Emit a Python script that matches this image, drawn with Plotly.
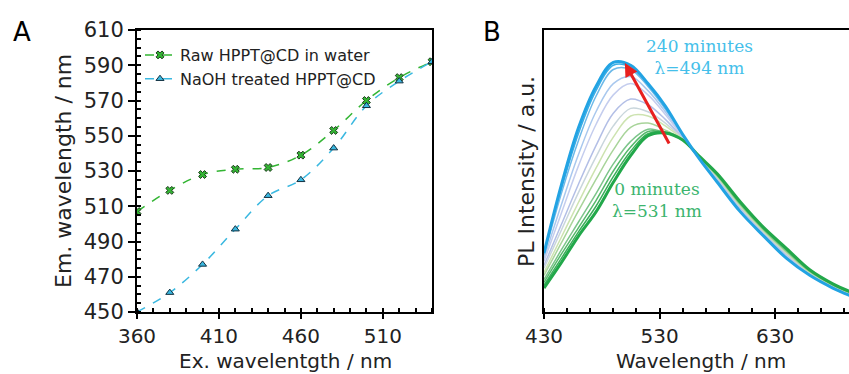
import plotly.graph_objects as go

# ---------------- Panel A data ----------------
ex_wavelength = [360, 380, 400, 420, 440, 460, 480, 500, 520, 540]
raw_em = [507, 519, 528, 531, 532, 539, 553, 570, 583, 592]
naoh_em = [450, 461, 477, 497, 516, 525, 543, 567, 581, 592]
a_xticks = [360, 410, 460, 510]
a_yticks = [450, 470, 490, 510, 530, 550, 570, 590, 610]

# ---------------- Panel B data ----------------
pl_wavelength = [430, 445, 460, 475, 490, 505, 520, 535, 550, 565, 580, 600, 620, 640, 660, 680, 695]
spec_00 = [0.085, 0.175, 0.27, 0.355, 0.46, 0.555, 0.625, 0.635, 0.61, 0.55, 0.49, 0.39, 0.30, 0.225, 0.15, 0.10, 0.072]
spec_01 = [0.095, 0.19, 0.285, 0.375, 0.48, 0.57, 0.632, 0.638, 0.61, 0.549, 0.488, 0.388, 0.298, 0.222, 0.149, 0.099, 0.071]
spec_02 = [0.105, 0.205, 0.30, 0.395, 0.50, 0.585, 0.64, 0.637, 0.61, 0.548, 0.486, 0.385, 0.296, 0.219, 0.147, 0.098, 0.070]
spec_03 = [0.115, 0.22, 0.32, 0.42, 0.525, 0.605, 0.648, 0.635, 0.61, 0.547, 0.484, 0.382, 0.293, 0.216, 0.145, 0.097, 0.069]
spec_04 = [0.13, 0.245, 0.36, 0.47, 0.575, 0.655, 0.67, 0.645, 0.61, 0.546, 0.482, 0.379, 0.29, 0.213, 0.143, 0.095, 0.068]
spec_05 = [0.14, 0.265, 0.39, 0.51, 0.62, 0.695, 0.695, 0.66, 0.612, 0.545, 0.48, 0.376, 0.287, 0.21, 0.141, 0.094, 0.067]
spec_06 = [0.155, 0.29, 0.425, 0.55, 0.66, 0.722, 0.71, 0.67, 0.615, 0.545, 0.478, 0.373, 0.285, 0.207, 0.139, 0.093, 0.066]
spec_07 = [0.165, 0.31, 0.455, 0.59, 0.705, 0.755, 0.735, 0.683, 0.617, 0.544, 0.476, 0.37, 0.283, 0.204, 0.138, 0.092, 0.065]
spec_08 = [0.18, 0.35, 0.52, 0.665, 0.77, 0.81, 0.77, 0.70, 0.62, 0.543, 0.472, 0.366, 0.279, 0.20, 0.136, 0.090, 0.063]
spec_09 = [0.19, 0.38, 0.56, 0.71, 0.81, 0.835, 0.785, 0.71, 0.622, 0.542, 0.468, 0.363, 0.276, 0.197, 0.134, 0.088, 0.061]
spec_10 = [0.20, 0.42, 0.61, 0.765, 0.86, 0.86, 0.80, 0.72, 0.625, 0.541, 0.465, 0.36, 0.274, 0.194, 0.133, 0.087, 0.060]
spec_11 = [0.205, 0.435, 0.635, 0.785, 0.875, 0.868, 0.805, 0.725, 0.628, 0.54, 0.462, 0.357, 0.272, 0.192, 0.131, 0.086, 0.059]
spec_12 = [0.209, 0.45, 0.655, 0.80, 0.885, 0.875, 0.81, 0.73, 0.63, 0.54, 0.46, 0.355, 0.27, 0.19, 0.13, 0.085, 0.058]
b_xticks = [430, 530, 630]

# styles (not data)
W, H = 849, 374
spec_list = [spec_11, spec_10, spec_09, spec_08, spec_07, spec_06, spec_05, spec_04, spec_03, spec_02, spec_01]
spec_colors = ["#3aaee6", "#6db9e8", "#a9c8ee", "#c4cdee", "#b3bfe6", "#c9d6dc", "#cde3b0",
               "#a8d49a", "#7cc58a", "#55b96b", "#3aae5a"]

SANS = "DejaVu Sans"
SERIF = "DejaVu Serif"


def px(x):
    return x / W


def py(y):
    return 1 - y / H


fig = go.Figure()

# Panel A traces
fig.add_trace(go.Scatter(
    x=ex_wavelength, y=raw_em, name="Raw HPPT@CD in water", mode="lines+markers",
    line=dict(color="#33b533", dash="dash", width=1.5, shape="spline"),
    marker=dict(symbol="x", size=7, color="#33b533", line=dict(color="#1a3a1a", width=1)),
    xaxis="x", yaxis="y"))
fig.add_trace(go.Scatter(
    x=ex_wavelength, y=naoh_em, name="NaOH treated HPPT@CD", mode="lines+markers",
    line=dict(color="#3ab8e0", dash="dash", width=1.5, shape="spline"),
    marker=dict(symbol="triangle-up", size=7, color="#3ab8e0", line=dict(color="#123040", width=1)),
    xaxis="x", yaxis="y"))

# Panel B traces
for s, c in zip(spec_list, spec_colors):
    fig.add_trace(go.Scatter(x=pl_wavelength, y=s, mode="lines", showlegend=False,
                             line=dict(color=c, width=1.5, shape="spline"),
                             xaxis="x2", yaxis="y2"))
fig.add_trace(go.Scatter(x=pl_wavelength, y=spec_00, mode="lines", showlegend=False,
                         line=dict(color="#22a84a", width=3, shape="spline"),
                         xaxis="x2", yaxis="y2"))
fig.add_trace(go.Scatter(x=pl_wavelength, y=spec_12, mode="lines", showlegend=False,
                         line=dict(color="#22a3e3", width=3, shape="spline"),
                         xaxis="x2", yaxis="y2"))

axis_common = dict(showgrid=False, zeroline=False, showline=True, linecolor="black",
                   linewidth=2, ticks="outside", tickcolor="black", tickwidth=2,
                   automargin=False)
yfont = dict(family=SANS, size=21, color="#222")
xfont = dict(family=SANS, size=20, color="#222")

fig.update_layout(
    template="none",
    width=W, height=H, margin=dict(l=0, r=0, t=0, b=0, pad=0), autosize=False,
    paper_bgcolor="white", plot_bgcolor="white",
    xaxis=dict(**axis_common, domain=[px(137), px(432)], range=[360, 540],
               tickvals=a_xticks, ticklen=5, mirror=True, tickfont=xfont,
               minor=dict(dtick=10, tick0=360, ticks="inside", ticklen=4, tickwidth=1.5, tickcolor="black"),
               anchor="y"),
    yaxis=dict(**axis_common, domain=[py(312), py(30)], range=[450, 610],
               tickvals=a_yticks, ticklen=7, mirror=True, tickfont=yfont,
               minor=dict(dtick=5, tick0=450, ticks="inside", ticklen=4, tickwidth=1.5, tickcolor="black"),
               anchor="x"),
    xaxis2=dict(**axis_common, domain=[px(544), 1.0], range=[430, 694],
                tickvals=b_xticks, ticklen=5, mirror=True, tickfont=xfont,
                minor=dict(dtick=20, tick0=430, ticks="inside", ticklen=4, tickwidth=1.5, tickcolor="black"),
                anchor="y2"),
    yaxis2=dict(showgrid=False, zeroline=False, showline=True, linecolor="black", linewidth=2,
                automargin=False,
                domain=[py(312), py(30)], range=[0, 1], showticklabels=False, ticks="",
                anchor="x2"),
    showlegend=True,
    legend=dict(x=px(140), y=py(38), xanchor="left", yanchor="top",
                bgcolor="rgba(0,0,0,0)", borderwidth=0, font=dict(family=SANS, size=16, color="#222"),
                tracegroupgap=0, itemwidth=30),
)

ann = []


def label(text, x, y, size, family=SANS, color="#222", angle=0):
    ann.append(dict(text=text, x=px(x), y=py(y), xref="paper", yref="paper", showarrow=False,
                    xanchor="center", yanchor="middle", textangle=angle, align="center",
                    font=dict(family=family, size=size, color=color)))


# panel letters
label("A", 22, 32, 26, color="black")
label("B", 492, 32, 26, color="black")
# axis titles
label("Ex. wavelentgth / nm", 285, 361, 20)
label("Em. wavelength / nm", 63, 171, 22, angle=-90)
label("Wavelength / nm", 701, 361, 20)
label("PL Intensity / a.u.", 526, 172, 22, angle=-90)
# spectra labels
label("240 minutes<br>λ=494 nm", 699, 57, 17, family=SERIF, color="#45bfea")
label("0 minutes<br>λ=531 nm", 657, 200, 17, family=SERIF, color="#3cb46e")
# red arrow
ann.append(dict(x=500, y=0.883, ax=539, ay=0.592, xref="x2", yref="y2", axref="x2", ayref="y2",
                text="", showarrow=True, arrowhead=2, arrowsize=0.9, arrowwidth=3,
                arrowcolor="#e8201f"))
fig.update_layout(annotations=ann)

fig.write_html("out.html")
